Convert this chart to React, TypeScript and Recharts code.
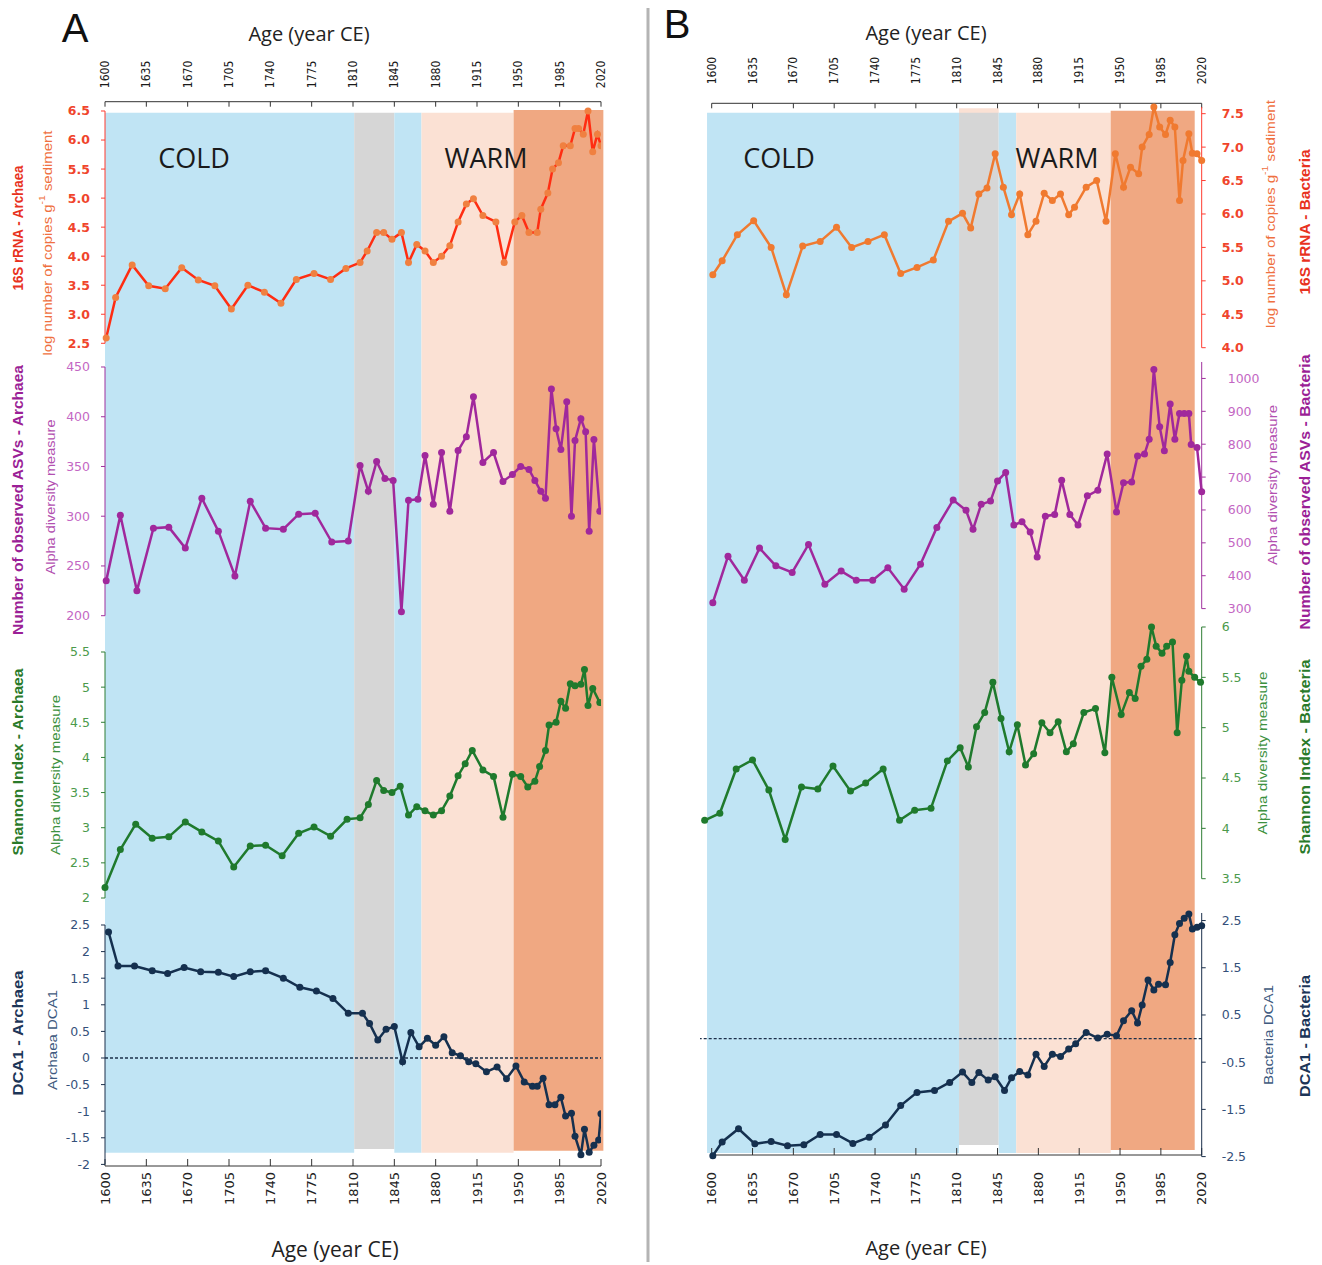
import { LineChart, Line, XAxis, YAxis, ReferenceArea, ReferenceLine } from 'recharts';

const yearTicks = [1600, 1635, 1670, 1705, 1740, 1775, 1810, 1845, 1880, 1915, 1950, 1985, 2020];

// Panel A - Archaea
const arcRnaYears = [1601, 1609, 1623, 1637, 1651, 1665, 1679, 1693, 1707, 1721, 1735, 1749, 1762, 1777, 1791, 1804, 1816, 1822, 1830, 1836, 1843, 1851, 1857, 1864, 1871, 1878, 1885, 1892, 1899, 1906, 1912, 1920, 1931, 1938, 1947, 1953, 1959, 1966, 1969, 1975, 1979, 1984, 1988, 1994, 1998, 2001, 2005, 2009, 2013, 2017, 2020];
const arcRnaValues = [2.59, 3.29, 3.85, 3.49, 3.44, 3.8, 3.59, 3.49, 3.09, 3.5, 3.38, 3.19, 3.6, 3.7, 3.6, 3.79, 3.89, 4.09, 4.41, 4.41, 4.29, 4.41, 3.89, 4.2, 4.09, 3.89, 4.0, 4.18, 4.59, 4.9, 4.99, 4.7, 4.59, 3.89, 4.59, 4.7, 4.41, 4.41, 4.81, 5.09, 5.5, 5.61, 5.9, 5.9, 6.2, 6.2, 6.1, 6.5, 5.8, 6.1, 5.9];
const arcRnaTicks = [2.5, 3, 3.5, 4, 4.5, 5, 5.5, 6, 6.5];

const arcAsvYears = [1601, 1613, 1627, 1641, 1654, 1668, 1682, 1696, 1710, 1723, 1736, 1751, 1764, 1778, 1792, 1806, 1816, 1823, 1830, 1837, 1844, 1851, 1857, 1865, 1871, 1878, 1885, 1892, 1899, 1906, 1912, 1920, 1929, 1937, 1945, 1952, 1959, 1964, 1969, 1973, 1978, 1982, 1986, 1991, 1995, 1998, 2003, 2007, 2010, 2014, 2019];
const arcAsvValues = [235, 301, 225, 288, 289, 268, 318, 285, 240, 315, 288, 287, 302, 303, 274, 275, 351, 325, 355, 338, 336, 204, 316, 317, 361, 312, 364, 305, 366, 380, 420, 354, 364, 335, 342, 350, 347, 336, 325, 318, 428, 388, 367, 415, 300, 376, 398, 385, 285, 377, 305];
const arcAsvTicks = [200, 250, 300, 350, 400, 450];

const arcShannonYears = [1600, 1613, 1626, 1640, 1654, 1668, 1682, 1696, 1709, 1723, 1736, 1750, 1764, 1777, 1791, 1805, 1816, 1823, 1830, 1836, 1843, 1850, 1857, 1864, 1871, 1878, 1885, 1892, 1899, 1905, 1911, 1920, 1929, 1937, 1945, 1952, 1958, 1964, 1968, 1973, 1976, 1982, 1986, 1990, 1994, 1998, 2003, 2006, 2009, 2013, 2019];
const arcShannonValues = [2.15, 2.69, 3.05, 2.85, 2.87, 3.08, 2.94, 2.81, 2.44, 2.74, 2.75, 2.6, 2.92, 3.01, 2.88, 3.12, 3.14, 3.33, 3.67, 3.53, 3.5, 3.59, 3.18, 3.3, 3.24, 3.18, 3.24, 3.45, 3.74, 3.91, 4.1, 3.82, 3.73, 3.15, 3.76, 3.73, 3.58, 3.66, 3.87, 4.1, 4.46, 4.5, 4.8, 4.7, 5.05, 5.02, 5.04, 5.25, 4.74, 4.98, 4.78];
const arcShannonTicks = [2, 2.5, 3, 3.5, 4, 4.5, 5, 5.5];

const arcDcaYears = [1603, 1611, 1625, 1640, 1653, 1667, 1681, 1696, 1709, 1723, 1736, 1751, 1765, 1779, 1793, 1806, 1818, 1824, 1831, 1838, 1845, 1852, 1859, 1866, 1873, 1880, 1887, 1894, 1901, 1908, 1914, 1923, 1932, 1940, 1948, 1955, 1962, 1966, 1971, 1976, 1981, 1986, 1990, 1995, 1998, 2003, 2006, 2010, 2014, 2018, 2020];
const arcDcaValues = [2.37, 1.73, 1.73, 1.64, 1.59, 1.7, 1.62, 1.61, 1.53, 1.62, 1.64, 1.5, 1.33, 1.26, 1.12, 0.84, 0.84, 0.65, 0.34, 0.54, 0.59, -0.07, 0.48, 0.21, 0.37, 0.24, 0.4, 0.1, 0.04, -0.07, -0.11, -0.26, -0.17, -0.39, -0.15, -0.45, -0.53, -0.53, -0.38, -0.88, -0.88, -0.74, -1.09, -1.04, -1.47, -1.82, -1.34, -1.77, -1.64, -1.54, -1.05];
const arcDcaTicks = [-2, -1.5, -1, -0.5, 0, 0.5, 1, 1.5, 2, 2.5];

// Panel B - Bacteria
const bacRnaYears = [1601, 1609, 1622, 1636, 1651, 1664, 1678, 1693, 1707, 1720, 1734, 1748, 1762, 1776, 1790, 1803, 1815, 1822, 1829, 1836, 1843, 1850, 1857, 1864, 1871, 1878, 1885, 1892, 1899, 1906, 1911, 1921, 1930, 1938, 1946, 1953, 1959, 1966, 1969, 1975, 1979, 1984, 1989, 1993, 1997, 2001, 2004, 2009, 2012, 2016, 2020];
const bacRnaValues = [5.09, 5.3, 5.69, 5.9, 5.5, 4.79, 5.52, 5.59, 5.8, 5.5, 5.59, 5.69, 5.11, 5.2, 5.31, 5.89, 6.01, 5.79, 6.3, 6.39, 6.9, 6.4, 5.99, 6.3, 5.69, 5.89, 6.31, 6.2, 6.3, 5.99, 6.1, 6.4, 6.5, 5.89, 6.9, 6.4, 6.7, 6.6, 7.0, 7.19, 7.6, 7.3, 7.19, 7.4, 7.3, 6.2, 6.8, 7.2, 6.91, 6.9, 6.8];
const bacRnaTicks = [4, 4.5, 5, 5.5, 6, 6.5, 7, 7.5];

const bacAsvYears = [1601, 1614, 1628, 1641, 1655, 1669, 1683, 1697, 1711, 1724, 1738, 1751, 1765, 1779, 1793, 1807, 1818, 1824, 1831, 1839, 1845, 1852, 1859, 1866, 1873, 1879, 1886, 1894, 1900, 1907, 1914, 1922, 1931, 1939, 1947, 1953, 1960, 1965, 1971, 1975, 1979, 1984, 1988, 1993, 1997, 2001, 2005, 2009, 2011, 2016, 2020];
const bacAsvValues = [318, 459, 386, 484, 430, 410, 495, 374, 414, 386, 386, 424, 359, 435, 547, 630, 599, 541, 617, 627, 688, 714, 554, 564, 533, 457, 581, 586, 690, 586, 554, 643, 660, 770, 594, 683, 685, 764, 770, 815, 1027, 853, 780, 922, 815, 893, 893, 893, 799, 790, 655];
const bacAsvTicks = [300, 400, 500, 600, 700, 800, 900, 1000];

const bacShannonYears = [1594, 1607, 1621, 1635, 1649, 1663, 1677, 1691, 1704, 1719, 1732, 1747, 1761, 1774, 1788, 1802, 1813, 1820, 1827, 1834, 1841, 1848, 1855, 1862, 1869, 1876, 1883, 1890, 1897, 1904, 1910, 1919, 1929, 1937, 1943, 1951, 1958, 1963, 1968, 1973, 1977, 1981, 1986, 1990, 1995, 1999, 2003, 2007, 2009, 2014, 2019];
const bacShannonValues = [4.08, 4.15, 4.59, 4.68, 4.38, 3.89, 4.41, 4.39, 4.62, 4.37, 4.45, 4.59, 4.08, 4.18, 4.2, 4.67, 4.8, 4.61, 5.01, 5.15, 5.45, 5.09, 4.76, 5.03, 4.63, 4.74, 5.05, 4.95, 5.06, 4.76, 4.84, 5.15, 5.19, 4.75, 5.5, 5.13, 5.35, 5.29, 5.61, 5.68, 6.0, 5.81, 5.74, 5.81, 5.85, 4.95, 5.47, 5.71, 5.56, 5.5, 5.45];
const bacShannonTicks = [3.5, 4, 4.5, 5, 5.5, 6];

const bacDcaYears = [1601, 1609, 1623, 1637, 1651, 1665, 1679, 1693, 1707, 1721, 1735, 1749, 1762, 1776, 1791, 1804, 1815, 1823, 1829, 1837, 1843, 1851, 1857, 1864, 1871, 1878, 1885, 1892, 1899, 1906, 1912, 1921, 1931, 1939, 1947, 1953, 1960, 1965, 1969, 1974, 1979, 1983, 1989, 1993, 1997, 2001, 2005, 2009, 2012, 2016, 2020];
const bacDcaValues = [-2.48, -2.19, -1.91, -2.23, -2.18, -2.27, -2.25, -2.03, -2.03, -2.22, -2.09, -1.83, -1.42, -1.14, -1.1, -0.93, -0.71, -0.93, -0.72, -0.88, -0.81, -1.1, -0.83, -0.7, -0.77, -0.33, -0.59, -0.33, -0.38, -0.22, -0.11, 0.13, 0.01, 0.09, 0.06, 0.38, 0.59, 0.33, 0.71, 1.24, 1.03, 1.15, 1.14, 1.61, 2.2, 2.44, 2.55, 2.64, 2.32, 2.36, 2.39];
const bacDcaTicks = [-2.5, -1.5, -0.5, 0.5, 1.5, 2.5];

// climate periods shaded behind each panel
const arcPeriods = [
  { kind: 'cold', from: 1600, to: 1811 },
  { kind: 'grey', from: 1811, to: 1845 },
  { kind: 'cold', from: 1845, to: 1868 },
  { kind: 'warm', from: 1868, to: 1946 },
  { kind: 'hot', from: 1946, to: 2022 },
];
const bacPeriods = [
  { kind: 'cold', from: 1596, to: 1812 },
  { kind: 'cap', from: 1812, to: 1846 },
  { kind: 'grey', from: 1812, to: 1846 },
  { kind: 'cold', from: 1846, to: 1861 },
  { kind: 'warm', from: 1861, to: 1942 },
  { kind: 'hot', from: 1942, to: 2014 },
];

const bandFill: any = { cold: '#c0e4f4', grey: '#d6d6d6', warm: '#fbe1d4', hot: '#f0a882', cap: '#fbe1d4' };
const arcExtent: any = { cold: [112.7, 1152.7], grey: [112.7, 1149], warm: [112.7, 1152.7], hot: [110, 1150.7] };
const bacExtent: any = { cold: [112.7, 1153], grey: [112.7, 1145], warm: [112.7, 1153], hot: [110.7, 1150], cap: [108.3, 113] };

const sans = "'Open Sans', 'Noto Sans', sans-serif";
const narrow = "'Liberation Sans Narrow', 'Liberation Sans', Arial, sans-serif";

const topTick = (gap: number) => (props: any) => {
  const { x, y, payload } = props;
  return (
    <g>
      <line x1={x} x2={x} y1={y} y2={y + 5} stroke="#333" />
      <text transform={`translate(${x},${y - gap}) rotate(-90)`} textAnchor="start" dominantBaseline="central"
        fontSize={12} fontFamily="'DejaVu Sans Condensed', 'DejaVu Sans', sans-serif" fontStretch="condensed" fill="#1a1a1a">
        {payload.value}
      </text>
    </g>
  );
};

const bottomTick = (gap: number) => (props: any) => {
  const { x, y, payload } = props;
  return (
    <g>
      <line x1={x} x2={x} y1={y - 7} y2={y} stroke="#333" />
      <text transform={`translate(${x},${y + gap}) rotate(-90)`} textAnchor="end" dominantBaseline="central"
        fontSize={13} fontFamily="'DejaVu Sans', Verdana, sans-serif" fill="#222">
        {payload.value}
      </text>
    </g>
  );
};

function Backdrop({ left, width, plotLeft, plotRight, axisTop, axisBottom, periods, extent, topGap, bottomGap }: any) {
  const H = 1265;
  const frac = (px: number) => (axisBottom - px) / (axisBottom - axisTop);
  const data = yearTicks.map((year) => ({ year, level: 0.5 }));
  return (
    <div style={{ position: 'absolute', left, top: 0 }}>
      <LineChart width={width} height={H} data={data}
        margin={{ top: axisTop - 1, bottom: H - axisBottom - 1, left: plotLeft - left, right: left + width - plotRight }}>
        <XAxis xAxisId="top" orientation="top" type="number" dataKey="year" domain={[1600, 2020]} allowDataOverflow
          ticks={yearTicks} interval={0} height={1} tickLine={false} tickSize={0} tickMargin={0} stroke="#333"
          tick={topTick(topGap)} />
        <XAxis xAxisId="bottom" orientation="bottom" type="number" dataKey="year" domain={[1600, 2020]} allowDataOverflow
          ticks={yearTicks} interval={0} height={1} tickLine={false} tickSize={0} tickMargin={0} stroke="#333"
          tick={bottomTick(bottomGap)} />
        <YAxis hide domain={[0, 1]} allowDataOverflow />
        {periods.map((p: any, i: number) => (
          <ReferenceArea key={i} xAxisId="top" x1={p.from} x2={p.to} y1={frac(extent[p.kind][1])} y2={frac(extent[p.kind][0])}
            fill={bandFill[p.kind]} fillOpacity={1} stroke="none" ifOverflow="visible" />
        ))}
        <Line xAxisId="top" dataKey="level" stroke="none" dot={false} activeDot={false} isAnimationActive={false} />
      </LineChart>
    </div>
  );
}

function SeriesChart({ years, values, side, plotLeft, plotRight, xDomain, top, bottom, yDomain, yTicks, fmt,
  axisColor, tickColor, bold, lineColor, dotColor, labelGap, zeroLine }: any) {
  const pad = 10;
  const axisW = side === 'left' ? 60 : 70;
  const data = years.map((year: number, i: number) => ({ year, v: values[i] }));
  const plotW = plotRight - plotLeft;
  const left = side === 'left' ? plotLeft - axisW : plotLeft;
  return (
    <div style={{ position: 'absolute', left, top: top - pad }}>
      <LineChart width={plotW + axisW} height={bottom - top + 2 * pad} data={data}
        margin={{ top: pad, bottom: pad, left: 0, right: 0 }}>
        <XAxis type="number" dataKey="year" domain={xDomain} hide />
        <YAxis orientation={side} width={axisW} domain={yDomain} ticks={yTicks} interval={0} stroke={axisColor}
          tickSize={4} tickMargin={labelGap - 4} tickFormatter={fmt}
          tick={{ fill: tickColor, fontSize: 12.5, fontFamily: "'DejaVu Sans', Verdana, sans-serif", fontWeight: bold ? 700 : 400 }} />
        {zeroLine && <ReferenceLine y={0} stroke="#1b2f4a" strokeDasharray="3 2" strokeWidth={1.3} />}
        <Line type="linear" dataKey="v" stroke={lineColor} strokeWidth={2.5}
          dot={{ r: 3.5, fill: dotColor, stroke: dotColor, strokeWidth: 0 }} activeDot={false} isAnimationActive={false} />
      </LineChart>
    </div>
  );
}

function SideLabel({ x, y, len, color, bold, size, children }: any) {
  return (
    <text transform={`translate(${x},${y}) rotate(-90)`} textAnchor="middle" dominantBaseline="central"
      textLength={len} lengthAdjust="spacingAndGlyphs" fill={color} fontWeight={bold ? 700 : 400}
      fontSize={size} fontFamily={narrow}>
      {children}
    </text>
  );
}

const oneDec = (v: number) => v.toFixed(1);

const RED = '#e8321e';
const PURPLE = '#9b1f96';
const GREEN = '#2a7a2a';
const NAVY = '#1c3557';

export default function App() {
  const A = { side: 'left', plotLeft: 105, plotRight: 601, xDomain: [1600, 2020], labelGap: 15 };
  const B = { side: 'right', plotLeft: 700, plotRight: 1201.7, xDomain: [1590, 2020], labelGap: 20 };
  const unitLog = (
    <>
      log number of copies g<tspan dy={-5} fontSize={9}>-1</tspan><tspan dy={5}> sediment</tspan>
    </>
  );
  const letterFont = "'Liberation Sans', Arial, sans-serif";
  return (
    <div style={{ position: 'absolute', left: 0, top: 0, width: 1322, height: 1265, background: '#fff', overflow: 'hidden' }}>
      <Backdrop left={0} width={648} plotLeft={105} plotRight={601} axisTop={101.7} axisBottom={1166}
        periods={arcPeriods} extent={arcExtent} topGap={13.5} bottomGap={6} />
      <Backdrop left={650} width={672} plotLeft={711.7} plotRight={1201.7} axisTop={103.3} axisBottom={1155}
        periods={bacPeriods} extent={bacExtent} topGap={19} bottomGap={17} />

      <SeriesChart {...A} years={arcRnaYears} values={arcRnaValues} top={111} bottom={343.3} yDomain={[2.5, 6.5]}
        yTicks={arcRnaTicks} fmt={oneDec} axisColor="#ff3b2f" tickColor="#f0452c" bold lineColor="#ff2d12" dotColor="#f08040" />
      <SeriesChart {...A} years={arcAsvYears} values={arcAsvValues} top={367.3} bottom={616} yDomain={[200, 450]}
        yTicks={arcAsvTicks} axisColor="#a0309e" tickColor="#c366c3" lineColor="#a0289c" dotColor="#a0289c" />
      <SeriesChart {...A} years={arcShannonYears} values={arcShannonValues} top={651.7} bottom={897.7} yDomain={[2, 5.5]}
        yTicks={arcShannonTicks} axisColor="#2f7d35" tickColor="#4b9a4b" lineColor="#1f7a2d" dotColor="#1f7a2d" />
      <SeriesChart {...A} years={arcDcaYears} values={arcDcaValues} top={925} bottom={1164.4} yDomain={[-2, 2.5]}
        yTicks={arcDcaTicks} axisColor="#1b2f4a" tickColor="#34507a" lineColor="#15304f" dotColor="#15304f" zeroLine />

      <SeriesChart {...B} years={bacRnaYears} values={bacRnaValues} top={106.6} bottom={347.3} yDomain={[4, 7.6]}
        yTicks={bacRnaTicks} fmt={oneDec} axisColor="#ff3b2f" tickColor="#f0452c" bold lineColor="#f07a30" dotColor="#f07a30" />
      <SeriesChart {...B} labelGap={26} years={bacAsvYears} values={bacAsvValues} top={361.7} bottom={608.3} yDomain={[300, 1050]}
        yTicks={bacAsvTicks} axisColor="#a0309e" tickColor="#c366c3" lineColor="#a0289c" dotColor="#a0289c" />
      <SeriesChart {...B} years={bacShannonYears} values={bacShannonValues} top={627.3} bottom={879} yDomain={[3.5, 6]}
        yTicks={bacShannonTicks} axisColor="#2f7d35" tickColor="#4b9a4b" lineColor="#1f7a2d" dotColor="#1f7a2d" />
      <SeriesChart {...B} years={bacDcaYears} values={bacDcaValues} top={913.1} bottom={1156.7} yDomain={[-2.5, 2.66]}
        yTicks={bacDcaTicks} axisColor="#1b2f4a" tickColor="#34507a" lineColor="#15304f" dotColor="#15304f" zeroLine />

      <svg width={1322} height={1265} style={{ position: 'absolute', left: 0, top: 0, pointerEvents: 'none' }}>
        <line x1={648} x2={648} y1={8} y2={1262} stroke="#b4b4b4" strokeWidth={3} />

        <text x={75} y={42} textAnchor="middle" fontSize={40} fontFamily={letterFont} fill="#111">A</text>
        <text x={677} y={38} textAnchor="middle" fontSize={40} fontFamily={letterFont} fill="#111">B</text>

        <text x={309} y={41} textAnchor="middle" fontSize={20} fontFamily={sans} fill="#222">Age (year CE)</text>
        <text x={335} y={1257} textAnchor="middle" fontSize={21} fontFamily={sans} fill="#222">Age (year CE)</text>
        <text x={926} y={40} textAnchor="middle" fontSize={20} fontFamily={sans} fill="#222">Age (year CE)</text>
        <text x={926} y={1255} textAnchor="middle" fontSize={20} fontFamily={sans} fill="#222">Age (year CE)</text>

        <text x={194} y={168} textAnchor="middle" fontSize={27} fontFamily={sans} fill="#1a1a1a">COLD</text>
        <text x={486} y={168} textAnchor="middle" fontSize={27} fontFamily={sans} fill="#1a1a1a">WARM</text>
        <text x={779} y={168} textAnchor="middle" fontSize={27} fontFamily={sans} fill="#1a1a1a">COLD</text>
        <text x={1057} y={168} textAnchor="middle" fontSize={27} fontFamily={sans} fill="#1a1a1a">WARM</text>

        <SideLabel x={18} y={228} len={125} color={RED} bold size={14}>16S rRNA - Archaea</SideLabel>
        <SideLabel x={47} y={243} len={225} color="#ef7040" size={13}>{unitLog}</SideLabel>
        <SideLabel x={18} y={500} len={270} color={PURPLE} bold size={14}>Number of observed ASVs - Archaea</SideLabel>
        <SideLabel x={50} y={497} len={155} color="#b24fb0" size={13}>Alpha diversity measure</SideLabel>
        <SideLabel x={18} y={762} len={187} color={GREEN} bold size={14}>Shannon Index - Archaea</SideLabel>
        <SideLabel x={55} y={775} len={160} color="#3d9140" size={13}>Alpha diversity measure</SideLabel>
        <SideLabel x={18} y={1033} len={125} color={NAVY} bold size={14}>DCA1 - Archaea</SideLabel>
        <SideLabel x={52} y={1040} len={100} color="#3e5a80" size={13}>Archaea DCA1</SideLabel>

        <SideLabel x={1305} y={222} len={145} color={RED} bold size={14}>16S rRNA - Bacteria</SideLabel>
        <SideLabel x={1270} y={214} len={228} color="#ef7040" size={13}>{unitLog}</SideLabel>
        <SideLabel x={1305} y={492} len={275} color={PURPLE} bold size={14}>Number of observed ASVs - Bacteria</SideLabel>
        <SideLabel x={1272} y={485} len={160} color="#b24fb0" size={13}>Alpha diversity measure</SideLabel>
        <SideLabel x={1305} y={757} len={195} color={GREEN} bold size={14}>Shannon Index - Bacteria</SideLabel>
        <SideLabel x={1262} y={753} len={163} color="#3d9140" size={13}>Alpha diversity measure</SideLabel>
        <SideLabel x={1305} y={1036} len={122} color={NAVY} bold size={14}>DCA1 - Bacteria</SideLabel>
        <SideLabel x={1268} y={1035} len={100} color="#3e5a80" size={13}>Bacteria DCA1</SideLabel>
      </svg>
    </div>
  );
}
